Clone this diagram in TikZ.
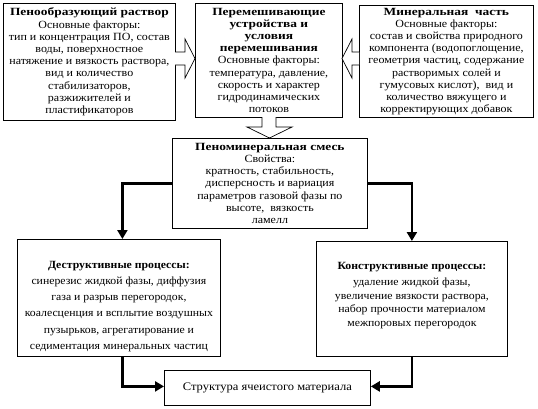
\documentclass[tikz,border=0pt]{standalone}
\usepackage{fontspec}
\setmainfont{Liberation Serif}[UprightFeatures={FakeStretch=1.09}, BoldFeatures={FakeStretch=1.22}]
\newfontfamily\procfont{Liberation Serif}[FakeStretch=1.07]
\usetikzlibrary{arrows.meta}
\begin{document}
\begin{tikzpicture}[x=1pt,y=-1pt,
  box/.style={draw, line width=0.8pt, align=center, inner sep=0pt, anchor=north west, font=\fontsize{11}{12.2}\selectfont},
  proctext/.style={align=center, inner sep=0pt},
  blockarrow/.style={draw, fill=white, line width=0.7pt, line join=miter},
  bigarrow/.style={line width=2.8pt, -{Triangle[length=9pt,width=10pt]}}]
\useasboundingbox (0,0) rectangle (538,408);
\node[box, minimum width=172pt, minimum height=117pt] (b1) at (3,3)
 {\textbf{Пенообразующий раствор}\\Основные факторы:\\тип и концентрация ПО, состав\\воды, поверхностное\\натяжение и вязкость раствора,\\вид и количество\\стабилизаторов,\\разжижителей и\\пластификаторов};
\node[box, minimum width=147pt, minimum height=114pt] (b2) at (195,3)
 {\textbf{Перемешивающие}\\\textbf{устройства и}\\\textbf{условия}\\\textbf{перемешивания}\\Основные факторы:\\температура, давление,\\скорость и характер\\гидродинамических\\потоков};
\node[box, minimum width=174pt, minimum height=112pt] (b3) at (359,5)
 {\textbf{Минеральная\ \ часть}\\Основные факторы:\\состав и свойства природного\\компонента (водопоглощение,\\геометрия частиц, содержание\\растворимых солей и\\гумусовых кислот),\ \ вид и\\количество вяжущего и\\корректирующих добавок};
\node[box, minimum width=195pt, minimum height=90pt] (b4) at (172,138)
 {\textbf{Пеноминеральная смесь}\\Свойства:\\кратность, стабильность,\\дисперсность и вариация\\параметров газовой фазы по\\высоте,\ \ вязкость\\ламелл};
\node[box, minimum width=203pt, minimum height=117pt] (b5) at (17,239) {};
\node[proctext, font=\procfont\fontsize{11}{16.3}\selectfont] (b5t) at ([yshift=-8.5pt]b5.center)
 {\textbf{Деструктивные процессы:}\\синерезис жидкой фазы, диффузия\\газа и разрыв перегородок,\\коалесценция и всплытие воздушных\\пузырьков, агрегатирование и\\седиментация минеральных частиц};
\node[box, minimum width=191pt, minimum height=115pt] (b7) at (316,241) {};
\node[proctext, font=\procfont\fontsize{11}{13.5}\selectfont] (b7t) at ([yshift=3.5pt]b7.center)
 {\textbf{Конструктивные процессы:}\\[2.5pt]удаление жидкой фазы,\\увеличение вязкости раствора,\\набор прочности материалом\\межпоровых перегородок};
\node[box, minimum width=206pt, minimum height=35pt, font=\fontsize{11.5}{13}\selectfont] (b6) at (164,370)
 {Структура ячеистого материала};
% block arrows
\draw[blockarrow] (175,52) -- (185,52) -- (185,39) -- (195,58.5) -- (185,78) -- (185,65) -- (175,65);
\draw[blockarrow] (359,52) -- (352,52) -- (352,39) -- (342,58.5) -- (352,78) -- (352,65) -- (359,65);
\draw[blockarrow] (262,117) -- (262,127) -- (247,127) -- (269.5,138) -- (292,127) -- (276,127) -- (276,117);
% process arrows
\draw[bigarrow] (b4.west) -| ([xshift=3.5pt]b5.north);
\draw[bigarrow] (b4.east) -| (b7.north);
\draw[bigarrow] ([xshift=3.5pt]b5.south) |- ([yshift=1.5pt]b6.west);
\draw[bigarrow] (b7.south) |- ([yshift=1.5pt]b6.east);
\end{tikzpicture}
\end{document}
